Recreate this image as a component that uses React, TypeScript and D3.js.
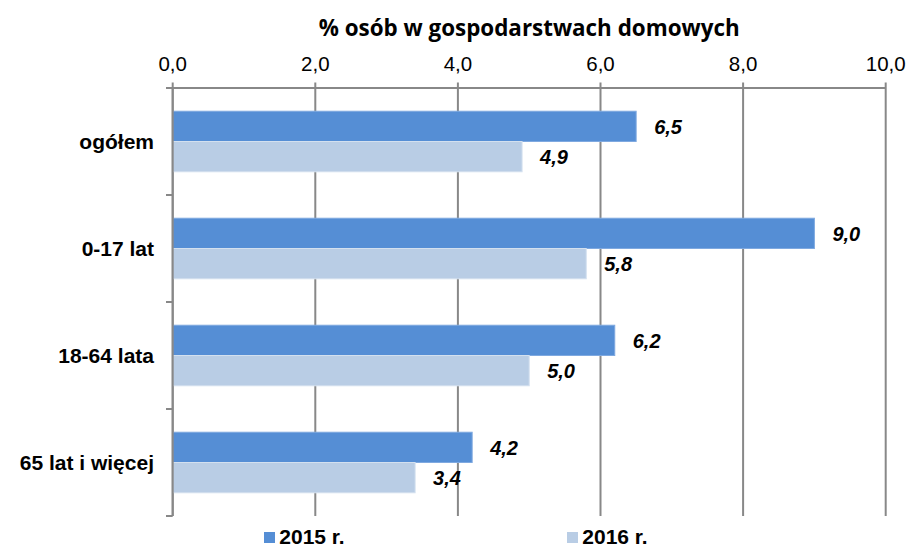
import React from "react";
import * as d3 from "d3";

const categories = ["ogółem", "0-17 lat", "18-64 lata", "65 lat i więcej"];
const series = ["2015 r.", "2016 r."];
const values2015 = [6.5, 9.0, 6.2, 4.2];
const values2016 = [4.9, 5.8, 5.0, 3.4];
const xTicks = [0, 2, 4, 6, 8, 10];
const title = "% osób w gospodarstwach domowych";

const W = 907;
const H = 547;
const colors = ["#558ED5", "#B9CDE5"];
const strokes = ["#7FA9E0", "#D3E0EF"];
const gridColor = "#888888";
const arial = "'Liberation Sans', Arial, sans-serif";

export default function App() {
  const x = d3.scaleLinear().domain([0, 10]).range([172.7, 885.7]);
  const y = d3.scaleBand<string>().domain(categories).range([88, 516]).paddingInner(0.434).paddingOuter(0.217);
  const sub = d3.scaleBand<string>().domain(series).range([0, y.bandwidth()]);
  const fmt = (v: number) => d3.format(".1f")(v).replace(".", ",");
  const data = [values2015, values2016];
  const step = y.step();
  const boundaries = d3.range(categories.length + 1).map((i) => 88 + i * step);

  return (
    <svg width={W} height={H} style={{ position: "absolute", left: 0, top: 0 }}>
      <rect width={W} height={H} fill="#fff" />
      <text x={(x(0) + x(10)) / 2} y={36} textAnchor="middle" fontFamily="'Open Sans', sans-serif" fontWeight="bold" fontSize={22.4} fill="#000">
        {title}
      </text>
      {xTicks.map((t) => (
        <g key={t}>
          <line x1={x(t)} x2={x(t)} y1={82.5} y2={516} stroke={gridColor} strokeWidth={2} />
          <text x={x(t)} y={71} textAnchor="middle" fontFamily={arial} fontSize={20.5} fill="#000">
            {fmt(t)}
          </text>
        </g>
      ))}
      <line x1={166} x2={x(10)} y1={88} y2={88} stroke={gridColor} strokeWidth={2} />
      {boundaries.map((b, i) => (
        <line key={i} x1={166} x2={x(0)} y1={b} y2={b} stroke={gridColor} strokeWidth={2} />
      ))}
      {data.map((vals, si) =>
        vals.map((v, ci) => {
          const by = (y(categories[ci]) as number) + (sub(series[si]) as number);
          const bh = sub.bandwidth();
          return (
            <g key={`${si}-${ci}`}>
              <rect x={x(0)} y={by} width={x(v) - x(0)} height={bh} fill={colors[si]} stroke={strokes[si]} strokeWidth={1} />
              <text x={x(v) + 18} y={by + bh / 2 + 7.5} fontFamily={arial} fontWeight="bold" fontStyle="italic" fontSize={20} fill="#000">
                {fmt(v)}
              </text>
            </g>
          );
        })
      )}
      <line x1={x(0)} x2={x(0)} y1={88} y2={516} stroke={gridColor} strokeWidth={2} />
      {categories.map((c) => (
        <text key={c} x={154} y={(y(c) as number) + y.bandwidth() / 2 + 7} textAnchor="end" fontFamily={arial} fontWeight="bold" fontSize={21} fill="#000">
          {c}
        </text>
      ))}
      {series.map((s, i) => (
        <g key={s} transform={`translate(${264 + i * 303},532)`}>
          <rect width={11} height={11} fill={colors[i]} />
          <text x={15.3} y={12.3} fontFamily={arial} fontWeight="bold" fontSize={21} fill="#000">
            {s}
          </text>
        </g>
      ))}
    </svg>
  );
}
